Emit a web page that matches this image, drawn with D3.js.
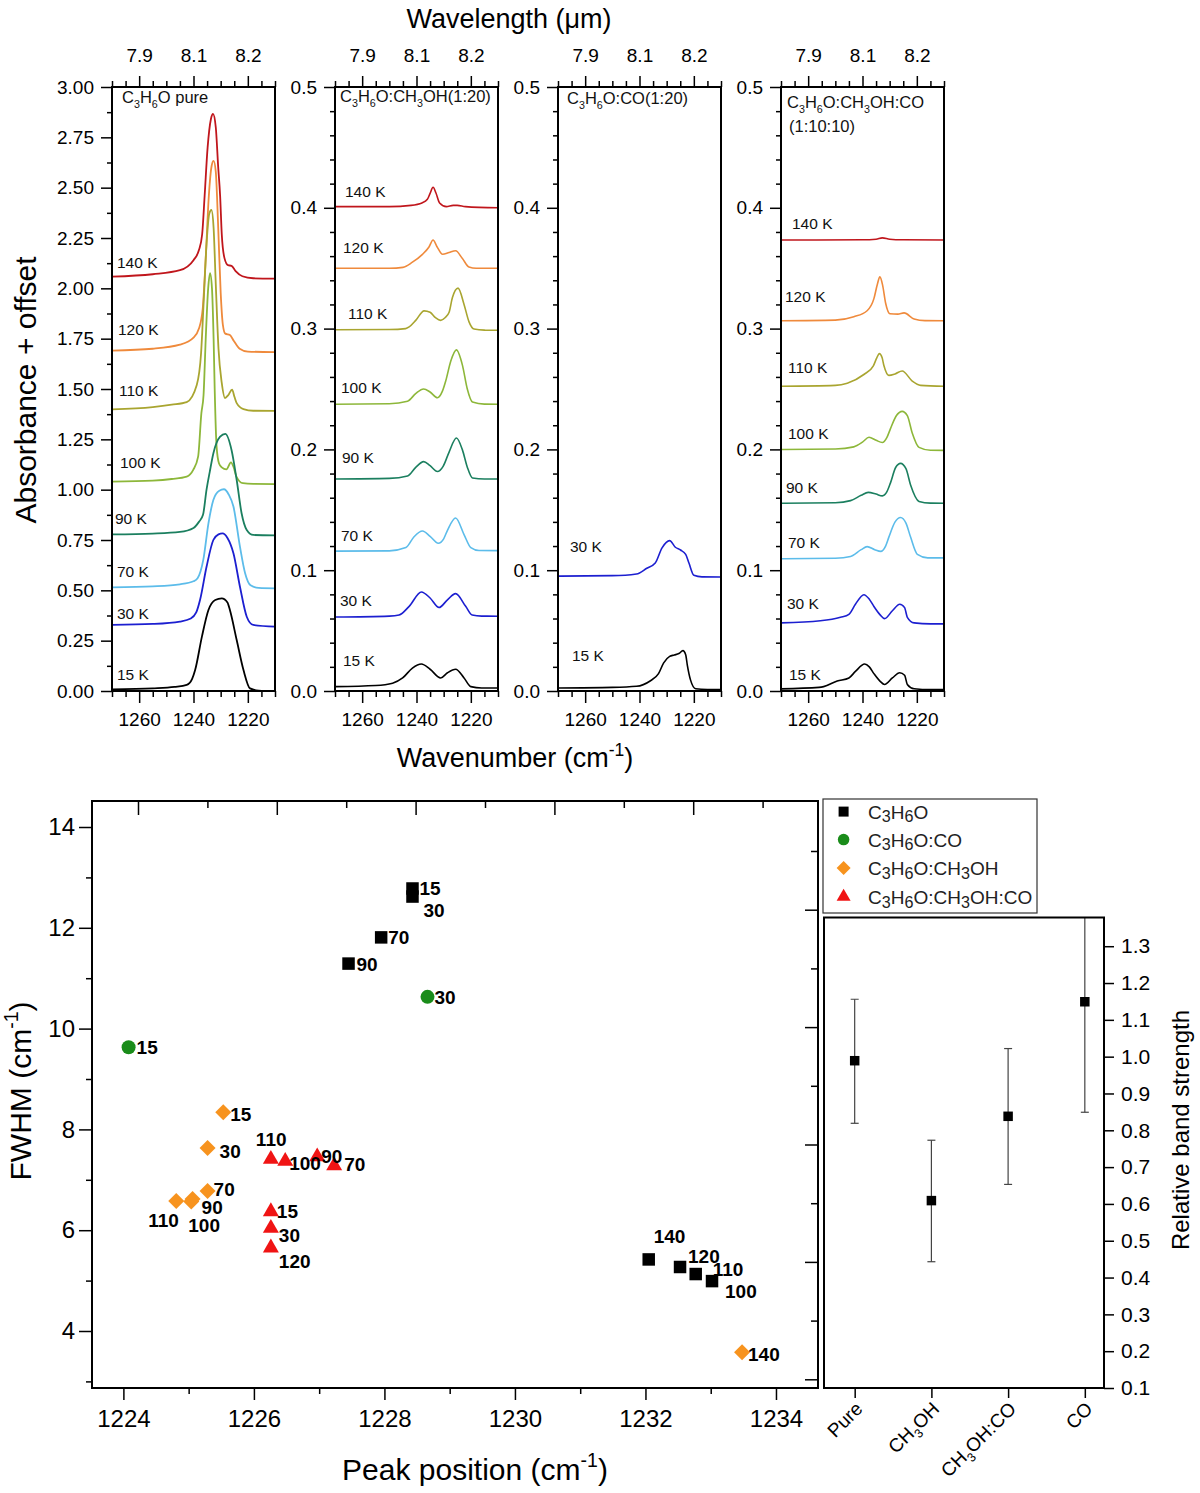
<!DOCTYPE html>
<html>
<head>
<meta charset="utf-8">
<script src="https://cdn.jsdelivr.net/npm/d3@7"></script>
<style>
  body { margin: 0; background: #fff; }
  svg { font-family: "Liberation Sans", Arial, Helvetica, sans-serif; }
</style>
</head>
<body>
<script>
// ---------- spectra (wavenumber cm-1, absorbance + offset) ----------
const pure140 = [[1270,2.058],[1255,2.07],[1245,2.09],[1240,2.14],[1238,2.19],[1236.8,2.27],[1235.9,2.46],[1234.8,2.70],[1233.6,2.84],[1232.8,2.866],[1231.8,2.80],[1230.9,2.60],[1230.2,2.46],[1229.6,2.27],[1228.6,2.15],[1227.3,2.115],[1226,2.112],[1224.5,2.085],[1222,2.06],[1218,2.05],[1210,2.048]];
const pure120 = [[1270,1.691],[1255,1.70],[1245,1.72],[1240,1.755],[1238,1.80],[1236.6,1.90],[1235.5,2.15],[1234.4,2.45],[1233.3,2.61],[1232.6,2.633],[1231.8,2.58],[1230.9,2.30],[1230,1.98],[1229.2,1.82],[1228.3,1.775],[1226.6,1.768],[1225.2,1.74],[1223,1.70],[1220,1.686],[1210,1.683]];
const pure110 = [[1270,1.399],[1255,1.41],[1248,1.422],[1242.5,1.435],[1238.8,1.52],[1237.2,1.68],[1236.2,1.95],[1235.2,2.22],[1234.2,2.37],[1233.4,2.389],[1232.6,2.30],[1231.8,2.02],[1230.8,1.70],[1229.6,1.53],[1228.4,1.455],[1227.2,1.47],[1225.8,1.497],[1224.9,1.46],[1224.1,1.43],[1221.6,1.40],[1218,1.392],[1210,1.391]];
const pure100 = [[1270,1.040],[1255,1.045],[1248,1.053],[1242.5,1.065],[1240.1,1.098],[1238.3,1.164],[1237.1,1.38],[1236.3,1.47],[1235.5,1.75],[1234.6,2.0],[1233.9,2.075],[1233.2,2.0],[1232.6,1.75],[1232.2,1.50],[1231.5,1.214],[1230.6,1.13],[1229.6,1.111],[1227.9,1.101],[1226.2,1.136],[1225.2,1.11],[1224.2,1.065],[1221.8,1.032],[1218,1.029],[1210,1.028]];
const pure90 = [[1270,0.778],[1255,0.782],[1245,0.79],[1240,0.81],[1238,0.84],[1236.5,0.875],[1235.2,1.0],[1234,1.09],[1232.7,1.18],[1230.2,1.263],[1228.3,1.277],[1226,1.197],[1224.1,1.048],[1222.3,0.883],[1220.4,0.80],[1218,0.775],[1210,0.773]];
const pure70 = [[1270,0.515],[1255,0.52],[1245,0.53],[1240,0.545],[1238.5,0.56],[1236.4,0.651],[1234.5,0.833],[1232.7,0.949],[1230.5,0.995],[1228.8,1.002],[1227,0.975],[1225.3,0.916],[1222.9,0.717],[1221,0.585],[1219,0.525],[1216,0.512],[1210,0.510]];
const pure30 = [[1270,0.328],[1255,0.333],[1245,0.345],[1241,0.36],[1239,0.39],[1237.6,0.452],[1235.2,0.617],[1232.7,0.75],[1230.8,0.778],[1229.3,0.783],[1227.5,0.76],[1225.3,0.684],[1222.9,0.518],[1220.4,0.369],[1218,0.328],[1210,0.320]];
const pure15 = [[1270,0.008],[1255,0.013],[1247,0.02],[1242.5,0.03],[1240.5,0.06],[1239.4,0.104],[1236.9,0.27],[1234.5,0.402],[1232,0.452],[1229.6,0.460],[1227.5,0.44],[1226.6,0.402],[1224.1,0.253],[1221.6,0.104],[1219.2,0.013],[1216,0.002],[1210,0.0]];

const meoh140 = [[1270,0.401],[1250,0.401],[1242,0.402],[1238,0.404],[1236,0.407],[1235,0.412],[1233.9,0.417],[1232.8,0.412],[1231.5,0.404],[1229,0.401],[1226.5,0.402],[1225,0.402],[1222,0.401],[1210,0.400]];
const meoh120 = [[1270,0.350],[1250,0.350],[1245,0.3507],[1241.5,0.355],[1237.8,0.3615],[1235.4,0.3676],[1233.9,0.3734],[1232.5,0.368],[1230.4,0.3615],[1228,0.363],[1225.6,0.3644],[1223.1,0.358],[1220.7,0.351],[1218,0.350],[1210,0.350]];
const meoh110 = [[1270,0.299],[1250,0.2992],[1244,0.300],[1242.7,0.3014],[1240.2,0.307],[1237.2,0.3147],[1235,0.3135],[1233,0.309],[1231.1,0.3068],[1229.5,0.309],[1228,0.3135],[1226.8,0.3255],[1224.7,0.3335],[1222.5,0.320],[1220.7,0.3058],[1218.8,0.2996],[1215,0.2987],[1210,0.2986]];
const meoh100 = [[1270,0.2374],[1250,0.2378],[1243.3,0.2399],[1240.2,0.2464],[1237.4,0.250],[1235,0.2475],[1232.3,0.2428],[1230.5,0.248],[1229.2,0.257],[1227.4,0.273],[1225.3,0.2824],[1223.1,0.2698],[1221.3,0.250],[1219.4,0.2392],[1215,0.2375],[1210,0.2374]];
const meoh90 = [[1270,0.1755],[1250,0.176],[1243.3,0.178],[1240.2,0.1853],[1237.4,0.1899],[1235,0.1865],[1232.3,0.1817],[1230.2,0.186],[1228,0.1978],[1225.3,0.2094],[1223.1,0.1996],[1221.3,0.1853],[1219.4,0.1763],[1215,0.1755],[1210,0.1755]];
const meoh70 = [[1270,0.1158],[1250,0.116],[1243.9,0.1187],[1240.9,0.1277],[1237.8,0.1324],[1235,0.128],[1232,0.1223],[1230,0.126],[1228.6,0.133],[1225.6,0.1432],[1222.5,0.1295],[1220,0.1187],[1217,0.1163],[1210,0.1162]];
const meoh30 = [[1270,0.0612],[1250,0.062],[1246.4,0.0629],[1242.7,0.0701],[1238.2,0.082],[1235,0.077],[1231.7,0.0691],[1228.6,0.0755],[1225.6,0.0806],[1221.9,0.0701],[1219.5,0.0629],[1216,0.062],[1210,0.0619]];
const meoh15 = [[1270,0.0036],[1255,0.0045],[1248.8,0.0065],[1245.1,0.0108],[1241.5,0.019],[1238.2,0.0223],[1235,0.018],[1231.1,0.0108],[1228.6,0.0151],[1225.6,0.018],[1222.5,0.0108],[1220,0.0036],[1216,0.0025],[1210,0.0025]];

const co30 = [[1270,0.0951],[1250,0.0955],[1241.1,0.0969],[1237.3,0.1016],[1234.2,0.1059],[1231.7,0.1185],[1228.9,0.1245],[1226.8,0.119],[1224.9,0.1167],[1223,0.1131],[1221.8,0.1059],[1220,0.0958],[1217,0.0945],[1210,0.0944]];
const co15 = [[1270,0.0025],[1250,0.003],[1241.1,0.0039],[1236.1,0.0083],[1233,0.0144],[1231.1,0.0233],[1228.9,0.0287],[1227.2,0.0298],[1225.5,0.031],[1224,0.0334],[1223,0.030],[1222.4,0.0215],[1221.2,0.009],[1219.3,0.0018],[1215,0.0012],[1210,0.0011]];

const mix140 = [[1270,0.3733],[1240,0.3735],[1235,0.374],[1232.7,0.3751],[1230,0.374],[1225,0.3735],[1210,0.3733]];
const mix120 = [[1270,0.3065],[1250,0.307],[1243.2,0.3098],[1238.3,0.3148],[1235.8,0.3248],[1234.5,0.337],[1233.6,0.3428],[1232.6,0.336],[1231.5,0.3212],[1229.9,0.3123],[1227,0.312],[1224.7,0.313],[1221,0.308],[1217,0.3066],[1210,0.3065]];
const mix110 = [[1270,0.2523],[1250,0.253],[1245.6,0.2548],[1239.5,0.262],[1236,0.2692],[1234.7,0.276],[1233.8,0.2793],[1232.8,0.276],[1232.1,0.2692],[1230.3,0.2613],[1228,0.2625],[1225.4,0.2649],[1221.7,0.2566],[1218.6,0.253],[1210,0.2523]];
const mix100 = [[1270,0.1999],[1250,0.2003],[1243.2,0.2021],[1240,0.206],[1237.6,0.210],[1235,0.2075],[1232.7,0.2057],[1231,0.21],[1229.7,0.2172],[1227.5,0.228],[1225.4,0.2315],[1223.5,0.228],[1221.7,0.2136],[1219.2,0.2017],[1215,0.1993],[1210,0.1992]];
const mix90 = [[1270,0.1554],[1250,0.1558],[1244.4,0.1576],[1240.5,0.162],[1237.9,0.1644],[1235,0.163],[1232.7,0.1615],[1231,0.165],[1229.7,0.1723],[1227.8,0.185],[1226,0.1884],[1224,0.184],[1222.3,0.1705],[1219.2,0.1569],[1215,0.1555],[1210,0.1554]];
const mix70 = [[1270,0.1095],[1250,0.1099],[1244.4,0.1113],[1240.5,0.117],[1238.3,0.1195],[1235.5,0.117],[1233.3,0.1156],[1231.5,0.12],[1230.3,0.1274],[1228,0.14],[1226,0.1436],[1224,0.139],[1222.3,0.1274],[1219.8,0.1131],[1216,0.1102],[1210,0.1102]];
const mix30 = [[1270,0.0564],[1255.5,0.0581],[1248.1,0.061],[1245,0.0635],[1242.6,0.0718],[1239.5,0.0797],[1237.5,0.076],[1235.8,0.070],[1233.5,0.063],[1231.9,0.0599],[1229,0.0664],[1226.3,0.0718],[1224.5,0.069],[1223.5,0.061],[1221,0.0564],[1215,0.0556],[1210,0.0556]];
const mix15 = [[1270,0.0018],[1256,0.003],[1254.3,0.0036],[1249.3,0.0083],[1245,0.0108],[1242.6,0.0162],[1239.2,0.0223],[1237.5,0.02],[1235.8,0.0144],[1233.5,0.008],[1231.9,0.0054],[1229,0.0108],[1226.3,0.0151],[1224.5,0.013],[1223.5,0.0054],[1221,0.0018],[1215,0.0011],[1210,0.0011]];

const tempLabels = ["140 K", "120 K", "110 K", "100 K", "90 K", "70 K", "30 K", "15 K"];
const tempColors = ["#c0161c", "#ef8a3c", "#a9a530", "#8db73a", "#1b7f5f", "#5cbcea", "#1c1fd0", "#000000"];
const panelTitles = [["C_3H_6O pure"], ["C_3H_6O:CH_3OH(1:20)"], ["C_3H_6O:CO(1:20)"], ["C_3H_6O:CH_3OH:CO", "(1:10:10)"]];
const panelYMax = [3.0, 0.5, 0.5, 0.5];
const panelSpectra = [
  [pure140, pure120, pure110, pure100, pure90, pure70, pure30, pure15],
  [meoh140, meoh120, meoh110, meoh100, meoh90, meoh70, meoh30, meoh15],
  [null, null, null, null, null, null, co30, co15],
  [mix140, mix120, mix110, mix100, mix90, mix70, mix30, mix15]
];
const wnMajor = [1260, 1240, 1220];

// ---------- FWHM vs peak position ----------
const c3h6oTemp = [15, 30, 70, 90, 100, 110, 120, 140];
const c3h6oPos  = [1228.43, 1228.43, 1227.95, 1227.45, 1233.02, 1232.77, 1232.53, 1232.05];
const c3h6oFwhm = [12.78, 12.62, 11.81, 11.29, 4.99, 5.13, 5.27, 5.42];
const coTemp = [15, 30];
const coPos  = [1224.08, 1228.66];
const coFwhm = [9.63, 10.63];
const meohTemp = [15, 30, 70, 90, 100, 110, 140];
const meohPos  = [1225.53, 1225.29, 1225.29, 1225.06, 1225.04, 1224.81, 1233.48];
const meohFwhm = [8.34, 7.63, 6.78, 6.62, 6.57, 6.58, 3.58];
const mixTemp = [15, 30, 70, 90, 100, 110, 120];
const mixPos  = [1226.26, 1226.26, 1227.23, 1226.97, 1226.48, 1226.26, 1226.26];
const mixFwhm = [6.37, 6.04, 7.28, 7.46, 7.37, 7.41, 5.65];

// ---------- relative band strength ----------
const bandCats = ["Pure", "CH_3OH", "CH_3OH:CO", "CO"];
const bandVal  = [0.989, 0.609, 0.838, 1.149];
const bandLow  = [0.819, 0.443, 0.653, 0.849];
const bandHigh = [1.156, 0.773, 1.022, 1.45];

// ---------- layout ----------
const W = 1200, H = 1493;
const panelLeft = [112, 335, 558, 781], panelW = 163, panelTop = 87, panelBot = 691;
const tempLabelOff = [
  [[5,-9],[6,-16],[7,-13],[8,-14],[3,-10],[5,-10],[5,-6],[5,-9]],
  [[10,-10],[8,-15],[13,-11],[6,-11],[7,-16],[6,-10],[5,-11],[8,-21]],
  [null, null, null, null, null, null, [12,-24],[14,-27]],
  [[11,-11],[4,-19],[7,-13],[7,-11],[5,-10],[7,-11],[6,-14],[8,-9]]
];
const titleOff = [[[10,103]], [[5,102]], [[9,104]], [[6,108],[8,132]]];
const c3h6oOff = [[7,7],[11,20],[7,7],[8,7],[13,17],[17,2],[8,-4],[5,-16]];
const coOff = [[8,7],[7,7]];
const meohOff = [[7,9],[12,10],[6,5],[9,15],[-3,31],[-28,26],[6,9]];
const mixOff = [[6,6],[8,14],[10,5],[4,6],[4,9],[-15,-13],[8,20]];

const svg = d3.select('body').append('svg').attr('width', W).attr('height', H);

// text with _sub and ^sup pieces
function rich(sel, str, fs, subScale = 0.65, subShift = 0.28) {
  const re = /([_^])\{([^}]*)\}|([_^])(.)|([^_^]+)/g;
  let m, shift = 0;
  while ((m = re.exec(str))) {
    const kind = m[1] || m[3] || '';
    const t = m[2] !== undefined ? m[2] : (m[4] !== undefined ? m[4] : m[5]);
    const target = kind === '_' ? fs * subShift : kind === '^' ? -fs * 0.42 : 0;
    sel.append('tspan').attr('dy', target - shift)
      .style('font-size', (kind ? fs * subScale : fs) + 'px').text(t);
    shift = target;
  }
  return sel;
}

function styleAxis(g, fs) {
  g.select('.domain').remove();
  g.selectAll('.tick line').attr('stroke', '#000').attr('stroke-width', 1.5);
  g.selectAll('.tick text').attr('fill', '#000').style('font-size', fs + 'px');
}

// ================= top: spectra panels =================
const line = d3.line().curve(d3.curveMonotoneX);

panelSpectra.forEach((spectra, i) => {
  const x0 = panelLeft[i];
  const x = d3.scaleLinear().domain([1270, 1210]).range([x0, x0 + panelW]);
  const y = d3.scaleLinear().domain([0, panelYMax[i]]).range([panelBot, panelTop]);
  const g = svg.append('g');
  const minorWn = d3.range(1270, 1209, -5).filter(v => !wnMajor.includes(v));

  g.append('g').attr('transform', `translate(0,${panelBot})`)
    .call(d3.axisBottom(x).tickValues(wnMajor).tickSize(12).tickPadding(10).tickFormat(d3.format('d')))
    .call(s => styleAxis(s, 19));
  g.append('g').attr('transform', `translate(0,${panelBot})`)
    .call(d3.axisBottom(x).tickValues(minorWn).tickSize(6).tickFormat(''))
    .call(s => styleAxis(s, 19));
  g.append('g').attr('transform', `translate(0,${panelTop})`)
    .call(d3.axisTop(x).tickValues(wnMajor).tickSize(11).tickPadding(14).tickFormat(v => (1e4 / v).toFixed(1)))
    .call(s => styleAxis(s, 19));
  g.append('g').attr('transform', `translate(0,${panelTop})`)
    .call(d3.axisTop(x).tickValues(minorWn).tickSize(6).tickFormat(''))
    .call(s => styleAxis(s, 19));

  let yMajor, yMinor, fmt;
  if (i === 0) {
    yMajor = d3.range(0, 13).map(k => k * 0.25);
    yMinor = d3.range(0, 12).map(k => k * 0.25 + 0.125);
    fmt = d3.format('.2f');
  } else {
    yMajor = d3.range(0, 6).map(k => k / 10);
    yMinor = d3.range(0, 51, 2).filter(v => v % 10).map(v => v / 100);
    fmt = d3.format('.1f');
  }
  g.append('g').attr('transform', `translate(${x0},0)`)
    .call(d3.axisLeft(y).tickValues(yMajor).tickSize(11).tickPadding(7).tickFormat(fmt))
    .call(s => styleAxis(s, 19));
  g.append('g').attr('transform', `translate(${x0},0)`)
    .call(d3.axisLeft(y).tickValues(yMinor).tickSize(5).tickFormat(''))
    .call(s => styleAxis(s, 19));

  const clipId = 'clip' + i;
  g.append('clipPath').attr('id', clipId).append('rect')
    .attr('x', x0).attr('y', panelTop).attr('width', panelW).attr('height', panelBot - panelTop);

  line.x(d => x(d[0])).y(d => y(d[1]));
  spectra.forEach((s, k) => {
    if (!s) return;
    g.append('path').datum(s).attr('clip-path', `url(#${clipId})`)
      .attr('fill', 'none').attr('stroke', tempColors[k])
      .attr('stroke-width', i === 0 ? 1.8 : 1.6).attr('d', line);
    const off = tempLabelOff[i][k];
    g.append('text').attr('x', x0 + off[0]).attr('y', y(s[0][1]) + off[1])
      .style('font-size', '15.5px').attr('fill', '#111').text(tempLabels[k]);
  });

  g.append('rect').attr('x', x0).attr('y', panelTop).attr('width', panelW).attr('height', panelBot - panelTop)
    .attr('fill', 'none').attr('stroke', '#000').attr('stroke-width', 2);

  panelTitles[i].forEach((t, j) => {
    const o = titleOff[i][j];
    rich(g.append('text').attr('x', x0 + o[0]).attr('y', o[1]).attr('fill', '#111'), t, 16.5);
  });
});

rich(svg.append('text').attr('x', 509).attr('y', 28).attr('text-anchor', 'middle'), 'Wavelength (\u03bcm)', 27);
rich(svg.append('text').attr('x', 515).attr('y', 767).attr('text-anchor', 'middle'), 'Wavenumber (cm^{-1})', 27);
svg.append('text').attr('transform', 'translate(36,390) rotate(-90)').attr('text-anchor', 'middle')
  .style('font-size', '30px').text('Absorbance + offset');

// ================= bottom-left: FWHM vs peak position =================
const mL = 92, mR = 818, mT = 801, mB = 1388;
const px = d3.scaleLinear().domain([1223.519, 1234.644]).range([mL, mR]);
const py = d3.scaleLinear().domain([2.869, 14.516]).range([mB, mT]);
const bottom = svg.append('g');

bottom.append('g').attr('transform', `translate(0,${mB})`)
  .call(d3.axisBottom(px).tickValues(d3.range(1224, 1235, 2)).tickSize(12).tickPadding(10).tickFormat(d3.format('d')))
  .call(s => styleAxis(s, 24));
bottom.append('g').attr('transform', `translate(0,${mB})`)
  .call(d3.axisBottom(px).tickValues(d3.range(1225, 1234, 2)).tickSize(6).tickFormat(''))
  .call(s => styleAxis(s, 24));
bottom.append('g').attr('transform', `translate(${mL},0)`)
  .call(d3.axisLeft(py).tickValues(d3.range(4, 15, 2)).tickSize(13).tickPadding(4))
  .call(s => styleAxis(s, 24));
bottom.append('g').attr('transform', `translate(${mL},0)`)
  .call(d3.axisLeft(py).tickValues(d3.range(3, 14, 2)).tickSize(6).tickFormat(''))
  .call(s => styleAxis(s, 24));

// mirror ticks of an unlinked layer on the top and right edges
const layerX = d3.scaleLinear().domain([0, 1]).range([138, 207.4]);
const layerY = d3.scaleLinear().domain([0, 1]).range([851, 909.7]);
bottom.append('g').attr('transform', `translate(0,${mT})`)
  .call(d3.axisBottom(layerX).tickValues([0, 2, 4, 6, 8]).tickSize(14).tickFormat(''))
  .call(s => styleAxis(s, 24));
bottom.append('g').attr('transform', `translate(0,${mT})`)
  .call(d3.axisBottom(layerX).tickValues([1, 3, 5, 7, 9]).tickSize(7).tickFormat(''))
  .call(s => styleAxis(s, 24));
bottom.append('g').attr('transform', `translate(${mR},0)`)
  .call(d3.axisLeft(layerY).tickValues([1, 3, 5, 7, 9]).tickSize(13).tickFormat(''))
  .call(s => styleAxis(s, 24));
bottom.append('g').attr('transform', `translate(${mR},0)`)
  .call(d3.axisLeft(layerY).tickValues([0, 2, 4, 6, 8]).tickSize(7).tickFormat(''))
  .call(s => styleAxis(s, 24));

bottom.append('rect').attr('x', mL).attr('y', mT).attr('width', mR - mL).attr('height', mB - mT)
  .attr('fill', 'none').attr('stroke', '#000').attr('stroke-width', 2);

const shapePath = {
  square: s => d3.symbol(d3.symbolSquare, s * s)(),
  circle: s => d3.symbol(d3.symbolCircle, Math.PI * s * s / 4)(),
  diamond: s => `M0,${-s / 2}L${s / 2},0L0,${s / 2}L${-s / 2},0Z`,
  triangle: s => d3.symbol(d3.symbolTriangle, Math.sqrt(3) / 4 * s * s)()
};

const scatterSeries = [
  { name: 'C_3H_6O', color: '#000000', shape: 'square', size: 12.5, legSize: 10, pos: c3h6oPos, fwhm: c3h6oFwhm, temp: c3h6oTemp, off: c3h6oOff },
  { name: 'C_3H_6O:CO', color: '#1a8c1a', shape: 'circle', size: 14, legSize: 11.5, pos: coPos, fwhm: coFwhm, temp: coTemp, off: coOff },
  { name: 'C_3H_6O:CH_3OH', color: '#f7931e', shape: 'diamond', size: 16, legSize: 14, pos: meohPos, fwhm: meohFwhm, temp: meohTemp, off: meohOff },
  { name: 'C_3H_6O:CH_3OH:CO', color: '#f01414', shape: 'triangle', size: 16, legSize: 14, pos: mixPos, fwhm: mixFwhm, temp: mixTemp, off: mixOff }
];

scatterSeries.forEach(s => {
  s.pos.forEach((p, k) => {
    const cx = px(p), cy = py(s.fwhm[k]);
    bottom.append('path').attr('d', shapePath[s.shape](s.size))
      .attr('transform', `translate(${cx},${cy})`).attr('fill', s.color);
  });
});
scatterSeries.forEach(s => {
  s.pos.forEach((p, k) => {
    const cx = px(p), cy = py(s.fwhm[k]);
    bottom.append('text').attr('x', cx + s.off[k][0]).attr('y', cy + s.off[k][1])
      .style('font-size', '19px').style('font-weight', 'bold').text(s.temp[k]);
  });
});

rich(bottom.append('text').attr('x', 475).attr('y', 1480).attr('text-anchor', 'middle'), 'Peak position (cm^{-1})', 30);
rich(bottom.append('text').attr('transform', 'translate(31,1091) rotate(-90)').attr('text-anchor', 'middle'), 'FWHM (cm^{-1})', 30);

// legend
const leg = svg.append('g');
leg.append('rect').attr('x', 823).attr('y', 799).attr('width', 214).attr('height', 114)
  .attr('fill', '#fff').attr('stroke', '#333').attr('stroke-width', 1.2);
const legRowY = [811.6, 839.6, 868, 896.8];
scatterSeries.forEach((s, k) => {
  leg.append('path').attr('d', shapePath[s.shape](s.legSize))
    .attr('transform', `translate(843.6,${legRowY[k]})`).attr('fill', s.color);
  rich(leg.append('text').attr('x', 868).attr('y', legRowY[k] + 7).attr('fill', '#222'), s.name, 19, 0.85, 0.2);
});

// ================= bottom-right: relative band strength =================
const rL = 824, rR = 1104, rT = 917.5, rB = 1388;
const bx = d3.scaleLinear().domain([-0.4, 3.25]).range([rL, rR]);
const by = d3.scaleLinear().domain([0.1, 1.378]).range([rB, rT]);
const right = svg.append('g');

right.append('g').attr('transform', `translate(${rR},0)`)
  .call(d3.axisRight(by).tickValues(d3.range(1, 14).map(k => k / 10)).tickSize(10).tickPadding(7).tickFormat(d3.format('.1f')))
  .call(s => styleAxis(s, 21));
right.append('g').attr('transform', `translate(0,${rB})`)
  .call(d3.axisBottom(bx).tickValues(d3.range(bandCats.length)).tickSize(10).tickFormat(''))
  .call(s => styleAxis(s, 18));

bandCats.forEach((c, k) => {
  rich(right.append('text').attr('text-anchor', 'end')
    .attr('transform', `translate(${bx(k) + 9},1410) rotate(-45)`), c, 19);
});

right.append('clipPath').attr('id', 'rclip').append('rect')
  .attr('x', rL).attr('y', rT).attr('width', rR - rL).attr('height', rB - rT);
const eb = right.append('g').attr('clip-path', 'url(#rclip)');
bandCats.forEach((c, k) => {
  const cx = bx(k);
  eb.append('line').attr('x1', cx).attr('x2', cx).attr('y1', by(bandLow[k])).attr('y2', by(bandHigh[k]))
    .attr('stroke', '#444').attr('stroke-width', 1.2);
  [bandLow[k], bandHigh[k]].forEach(v => {
    eb.append('line').attr('x1', cx - 4).attr('x2', cx + 4).attr('y1', by(v)).attr('y2', by(v))
      .attr('stroke', '#444').attr('stroke-width', 1.2);
  });
  eb.append('path').attr('d', shapePath.square(9.5))
    .attr('transform', `translate(${cx},${by(bandVal[k])})`).attr('fill', '#000');
});

right.append('rect').attr('x', rL).attr('y', rT).attr('width', rR - rL).attr('height', rB - rT)
  .attr('fill', 'none').attr('stroke', '#000').attr('stroke-width', 2);
right.append('text').attr('transform', 'translate(1189,1130) rotate(-90)').attr('text-anchor', 'middle')
  .style('font-size', '24px').text('Relative band strength');
</script>
</body>
</html>
